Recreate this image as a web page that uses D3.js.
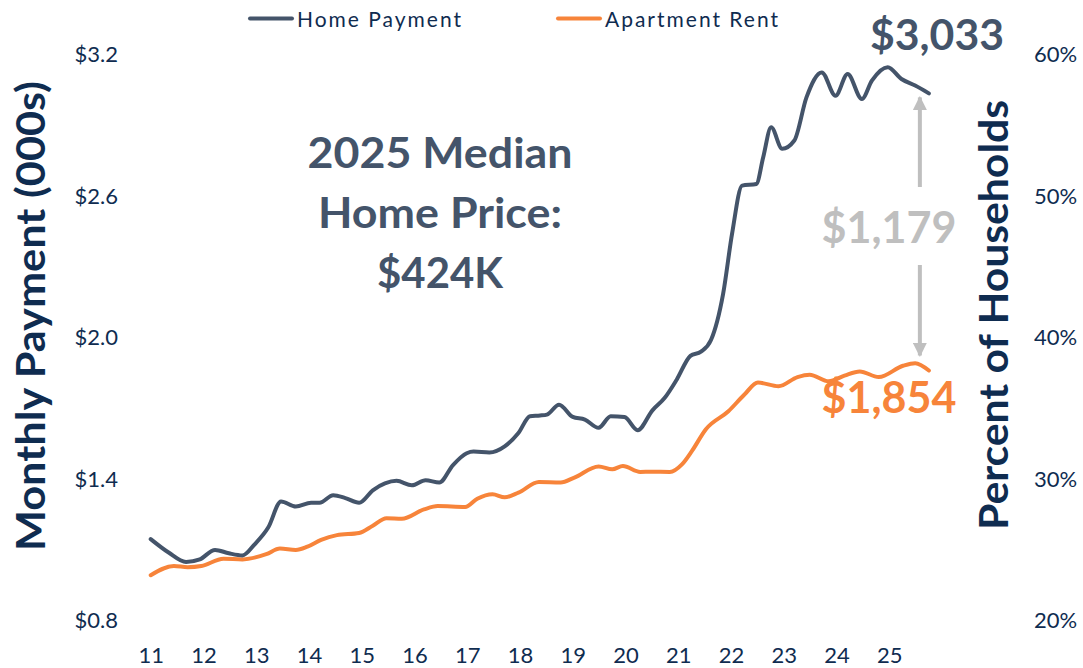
<!DOCTYPE html>
<html>
<head>
<meta charset="utf-8">
<script src="https://cdn.jsdelivr.net/npm/d3@7"></script>
<style>
  body { margin: 0; background: #fff; }
  svg { display: block; font-family: Lato, "Open Sans", sans-serif; }
</style>
</head>
<body>
<svg id="chart"></svg>
<script>
// Data (years as fractional year numbers, values in $000s)
const yearTicks = [11, 12, 13, 14, 15, 16, 17, 18, 19, 20, 21, 22, 23, 24, 25];
const dollarTicks = [0.8, 1.4, 2.0, 2.6, 3.2];
const pctTicks = [0.2, 0.3, 0.4, 0.5, 0.6];

const homeYears = [11.00, 11.34, 11.67, 11.93, 12.22, 12.48, 12.74, 12.97, 13.23, 13.47, 13.75, 14.04, 14.20, 14.46, 14.69, 14.95,
  15.21, 15.44, 15.66, 15.95, 16.21, 16.47, 16.73, 16.99, 17.12, 17.42, 17.71, 17.97, 18.19, 18.38, 18.51, 18.74,
  19.00, 19.23, 19.49, 19.72, 19.98, 20.23, 20.51, 20.74, 20.97, 21.23, 21.43, 21.62, 21.85, 22.02, 22.21, 22.48,
  22.61, 22.76, 22.97, 23.20, 23.43, 23.72, 23.98, 24.21, 24.48, 24.67, 24.97, 25.23, 25.49, 25.75];
const homeValues = [1.143, 1.086, 1.046, 1.057, 1.097, 1.083, 1.074, 1.121, 1.193, 1.303, 1.281, 1.297, 1.297, 1.329, 1.317, 1.297,
  1.350, 1.379, 1.390, 1.371, 1.393, 1.383, 1.457, 1.507, 1.514, 1.510, 1.536, 1.593, 1.664, 1.667, 1.671, 1.713,
  1.661, 1.650, 1.615, 1.664, 1.661, 1.605, 1.689, 1.741, 1.819, 1.920, 1.938, 1.987, 2.183, 2.438, 2.642, 2.649,
  2.762, 2.889, 2.798, 2.833, 3.016, 3.122, 3.023, 3.115, 3.009, 3.087, 3.144, 3.094, 3.066, 3.033];

const rentYears = [11.00, 11.44, 11.70, 11.96, 12.38, 12.74, 13.19, 13.45, 13.75, 13.97, 14.23, 14.53, 14.95, 15.21, 15.47, 15.76,
  16.18, 16.44, 16.96, 17.19, 17.48, 17.71, 17.97, 18.36, 18.77, 19.03, 19.49, 19.75, 19.95, 20.28, 20.48, 20.84,
  21.07, 21.26, 21.52, 21.95, 22.25, 22.51, 22.90, 23.26, 23.49, 23.85, 24.15, 24.44, 24.80, 25.26, 25.49, 25.75];
const rentValues = [0.990, 1.029, 1.024, 1.029, 1.060, 1.057, 1.079, 1.103, 1.097, 1.111, 1.140, 1.160, 1.169, 1.200, 1.231, 1.229,
  1.269, 1.283, 1.279, 1.314, 1.333, 1.320, 1.340, 1.385, 1.383, 1.404, 1.451, 1.439, 1.453, 1.428, 1.429, 1.428,
  1.460, 1.517, 1.608, 1.685, 1.755, 1.807, 1.791, 1.830, 1.840, 1.812, 1.836, 1.854, 1.830, 1.878, 1.889, 1.858];

const homeLabel = "$3,033";
const rentLabel = "$1,854";
const gapLabel = "$1,179";

const width = 1083, height = 668;
const navy = "#0F2C50", slate = "#44546A", orange = "#F7843A", gray = "#BFBFBF";

const svg = d3.select("#chart").attr("width", width).attr("height", height);

// Scales
const x = d3.scaleLinear().domain([11, 25]).range([150.7, 889.3]);
const y = d3.scaleLinear().domain([0.8, 3.2]).range([620, 54]);
const yRight = d3.scaleLinear().domain([0.2, 0.6]).range([620, 54]);

// Left axis
const gLeft = svg.append("g").attr("transform", "translate(118,0)")
  .call(d3.axisLeft(y).tickValues(dollarTicks).tickFormat(d => "$" + d.toFixed(1)).tickSize(0).tickPadding(0));
gLeft.select(".domain").remove();
gLeft.selectAll("text").attr("font-size", 22).attr("fill", navy).attr("font-family", "Lato").attr("dy", "0.36em");

// Right axis
const gRight = svg.append("g").attr("transform", "translate(1034,0)")
  .call(d3.axisRight(yRight).tickValues(pctTicks).tickFormat(d3.format(".0%")).tickSize(0).tickPadding(0));
gRight.select(".domain").remove();
gRight.selectAll("text").attr("font-size", 22).attr("fill", navy).attr("font-family", "Lato").attr("dy", "0.36em");

// Bottom axis
const gBottom = svg.append("g").attr("transform", "translate(0,663)")
  .call(d3.axisBottom(x).tickValues(yearTicks).tickFormat(d => d).tickSize(0).tickPadding(0));
gBottom.select(".domain").remove();
gBottom.selectAll("text").attr("font-size", 22).attr("fill", navy).attr("font-family", "Lato").attr("y", 0).attr("dy", 0);

// Axis titles
svg.append("text")
  .attr("transform", "translate(45,316) rotate(-90)")
  .attr("text-anchor", "middle")
  .attr("font-size", 40).attr("font-weight", 700).attr("fill", navy)
  .attr("textLength", 470).attr("lengthAdjust", "spacingAndGlyphs")
  .text("Monthly Payment (000s)");

svg.append("text")
  .attr("transform", "translate(1008,315) rotate(-90)")
  .attr("text-anchor", "middle")
  .attr("font-size", 40).attr("font-weight", 700).attr("fill", navy)
  .attr("textLength", 430).attr("lengthAdjust", "spacingAndGlyphs")
  .text("Percent of Households");

// Lines
const line = d3.line().x(d => x(d[0])).y(d => y(d[1])).curve(d3.curveMonotoneX);
const homeData = d3.zip(homeYears, homeValues);
const rentData = d3.zip(rentYears, rentValues);

svg.append("path").datum(rentData)
  .attr("d", line).attr("fill", "none").attr("stroke", orange).attr("stroke-width", 4)
  .attr("stroke-linejoin", "round").attr("stroke-linecap", "round");
svg.append("path").datum(homeData)
  .attr("d", line).attr("fill", "none").attr("stroke", slate).attr("stroke-width", 4)
  .attr("stroke-linejoin", "round").attr("stroke-linecap", "round");

// Legend
const legend = [
  { name: "Home Payment", color: slate, x: 250, w: 164 },
  { name: "Apartment Rent", color: orange, x: 558, w: 173 }
];
legend.forEach(d => {
  svg.append("line")
    .attr("x1", d.x).attr("x2", d.x + 42).attr("y1", 18.5).attr("y2", 18.5)
    .attr("stroke", d.color).attr("stroke-width", 4).attr("stroke-linecap", "round");
  svg.append("text")
    .attr("x", d.x + 47).attr("y", 26.5)
    .attr("font-size", 21).attr("fill", navy)
    .attr("textLength", d.w).attr("lengthAdjust", "spacing")
    .text(d.name);
});

// Median home price callout
const callout = ["2025 Median", "Home Price:", "$424K"];
const calloutW = [265, 244, 126];
callout.forEach((t, i) => {
  svg.append("text")
    .attr("x", 440).attr("y", 168 + i * 60)
    .attr("text-anchor", "middle")
    .attr("font-size", 42).attr("font-weight", 700).attr("fill", slate)
    .attr("textLength", calloutW[i]).attr("lengthAdjust", "spacingAndGlyphs")
    .text(t);
});

// End labels
const lastHome = homeData[homeData.length - 1];
const lastRent = rentData[rentData.length - 1];

svg.append("text")
  .attr("x", 937).attr("y", 50)
  .attr("text-anchor", "middle")
  .attr("font-size", 42).attr("font-weight", 700).attr("fill", slate)
  .attr("textLength", 134).attr("lengthAdjust", "spacingAndGlyphs")
  .text(homeLabel);

svg.append("text")
  .attr("x", 889).attr("y", 413)
  .attr("text-anchor", "middle")
  .attr("font-size", 44).attr("font-weight", 700).attr("fill", orange)
  .attr("textLength", 135).attr("lengthAdjust", "spacingAndGlyphs")
  .text(rentLabel);

svg.append("text")
  .attr("x", 889).attr("y", 243)
  .attr("text-anchor", "middle")
  .attr("font-size", 44).attr("font-weight", 700).attr("fill", gray)
  .attr("textLength", 135).attr("lengthAdjust", "spacingAndGlyphs")
  .text(gapLabel);

// Gap arrows
const defs = svg.append("defs");
defs.append("marker")
  .attr("id", "arrow").attr("viewBox", "0 0 10 10")
  .attr("refX", 9).attr("refY", 5)
  .attr("markerWidth", 3.6).attr("markerHeight", 3.6)
  .attr("markerUnits", "strokeWidth")
  .attr("orient", "auto")
  .append("path").attr("d", "M0,0 L10,5 L0,10 Z").attr("fill", gray);

const ax = x(lastHome[0]) - 9;
svg.append("line")
  .attr("x1", ax).attr("x2", ax)
  .attr("y1", 187).attr("y2", y(lastHome[1]) + 4)
  .attr("stroke", gray).attr("stroke-width", 4)
  .attr("marker-end", "url(#arrow)");
svg.append("line")
  .attr("x1", ax).attr("x2", ax)
  .attr("y1", 265).attr("y2", y(lastRent[1]) - 15)
  .attr("stroke", gray).attr("stroke-width", 4)
  .attr("marker-end", "url(#arrow)");
</script>
</body>
</html>
